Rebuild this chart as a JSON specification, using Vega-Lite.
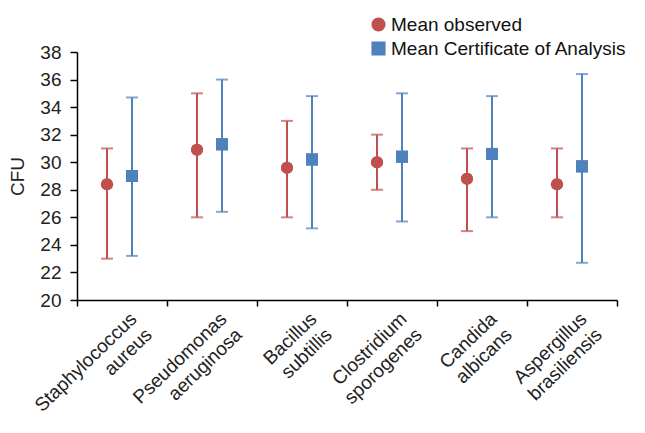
{
  "$schema": "https://vega.github.io/schema/vega-lite/v6.json",
  "width": 540,
  "height": 248,
  "autosize": "none",
  "padding": {"left": 77, "top": 52, "right": 28, "bottom": 133},
  "background": "white",
  "config": {
    "font": "Liberation Sans",
    "view": {"stroke": null},
    "axis": {"domainColor": "black", "tickColor": "black", "domainWidth": 1.5, "tickWidth": 1.5, "labelColor": "#222", "titleColor": "#222", "grid": false, "labelFontSize": 19, "titleFontSize": 19, "titleFontWeight": "normal"},
    "axisY": {"tickSize": 7, "labelPadding": 9, "titlePadding": 12},
    "legend": {"labelFontSize": 19, "labelColor": "#111"}
  },
  "data": {
    "values": [
      {"species": "Staphylococcus aureus", "series": "Mean observed", "mean": 28.4, "lo": 23.0, "hi": 31.0},
      {"species": "Staphylococcus aureus", "series": "Mean Certificate of Analysis", "mean": 29.0, "lo": 23.2, "hi": 34.7},
      {"species": "Pseudomonas aeruginosa", "series": "Mean observed", "mean": 30.9, "lo": 26.0, "hi": 35.0},
      {"species": "Pseudomonas aeruginosa", "series": "Mean Certificate of Analysis", "mean": 31.3, "lo": 26.4, "hi": 36.0},
      {"species": "Bacillus subtillis", "series": "Mean observed", "mean": 29.6, "lo": 26.0, "hi": 33.0},
      {"species": "Bacillus subtillis", "series": "Mean Certificate of Analysis", "mean": 30.2, "lo": 25.2, "hi": 34.8},
      {"species": "Clostridium sporogenes", "series": "Mean observed", "mean": 30.0, "lo": 28.0, "hi": 32.0},
      {"species": "Clostridium sporogenes", "series": "Mean Certificate of Analysis", "mean": 30.4, "lo": 25.7, "hi": 35.0},
      {"species": "Candida albicans", "series": "Mean observed", "mean": 28.8, "lo": 25.0, "hi": 31.0},
      {"species": "Candida albicans", "series": "Mean Certificate of Analysis", "mean": 30.6, "lo": 26.0, "hi": 34.8},
      {"species": "Aspergillus brasiliensis", "series": "Mean observed", "mean": 28.4, "lo": 26.0, "hi": 31.0},
      {"species": "Aspergillus brasiliensis", "series": "Mean Certificate of Analysis", "mean": 29.7, "lo": 22.7, "hi": 36.4}
    ]
  },
  "encoding": {
    "x": {
      "field": "species", "type": "nominal", "sort": null,
      "scale": {"paddingInner": 0, "paddingOuter": 0},
      "axis": {
        "title": null, "labelAngle": -44, "labelAlign": "right", "labelBaseline": "top",
        "labelExpr": "split(datum.label, ' ')", "tickBand": "extent", "tickSize": 6,
        "labelFontSize": 19, "labelPadding": 3, "labelOffset": 5, "labelLineHeight": 22,
        "labelOverlap": false, "labelLimit": 0
      }
    },
    "xOffset": {
      "field": "series", "type": "nominal",
      "sort": ["Mean observed", "Mean Certificate of Analysis"],
      "scale": {"type": "point", "range": [30, 55], "padding": 0}
    },
    "y": {
      "field": "mean", "type": "quantitative", "scale": {"domain": [20, 38]}, "title": "CFU",
      "axis": {"values": [20, 22, 24, 26, 28, 30, 32, 34, 36, 38]}
    },
    "color": {
      "field": "series", "type": "nominal",
      "sort": ["Mean observed", "Mean Certificate of Analysis"],
      "scale": {"domain": ["Mean observed", "Mean Certificate of Analysis"], "range": ["#C0504D", "#4F81BD"]},
      "legend": {"title": null, "orient": "none", "legendX": 292, "legendY": -37, "labelFontSize": 19, "symbolSize": 160, "rowPadding": 4, "labelOffset": 3, "padding": 0, "labelLimit": 0}
    }
  },
  "layer": [
    {
      "mark": {"type": "point", "filled": true, "opacity": 1, "size": 145},
      "encoding": {
        "shape": {
          "field": "series", "type": "nominal",
          "sort": ["Mean observed", "Mean Certificate of Analysis"],
          "scale": {"domain": ["Mean observed", "Mean Certificate of Analysis"], "range": ["circle", "square"]},
          "legend": {"title": null, "orient": "none", "legendX": 292, "legendY": -37, "labelFontSize": 19, "symbolSize": 160, "rowPadding": 4, "labelOffset": 3, "padding": 0, "labelLimit": 0}
        }
      }
    },
    {
      "mark": {"type": "rule", "strokeWidth": 2},
      "encoding": {
        "y": {"field": "lo", "type": "quantitative", "scale": {"domain": [20, 38]}, "title": "CFU", "axis": {"values": [20, 22, 24, 26, 28, 30, 32, 34, 36, 38]}},
        "y2": {"field": "hi"}
      }
    },
    {
      "mark": {"type": "tick", "size": 12, "thickness": 2},
      "encoding": {
        "y": {"field": "lo", "type": "quantitative", "scale": {"domain": [20, 38]}, "title": "CFU", "axis": {"values": [20, 22, 24, 26, 28, 30, 32, 34, 36, 38]}}
      }
    },
    {
      "mark": {"type": "tick", "size": 12, "thickness": 2},
      "encoding": {
        "y": {"field": "hi", "type": "quantitative", "scale": {"domain": [20, 38]}, "title": "CFU", "axis": {"values": [20, 22, 24, 26, 28, 30, 32, 34, 36, 38]}}
      }
    },
    {
      "mark": {"type": "point", "filled": true, "opacity": 1, "size": 145},
      "encoding": {
        "shape": {
          "field": "series", "type": "nominal",
          "sort": ["Mean observed", "Mean Certificate of Analysis"],
          "scale": {"domain": ["Mean observed", "Mean Certificate of Analysis"], "range": ["circle", "square"]},
          "legend": null
        }
      }
    }
  ]
}
